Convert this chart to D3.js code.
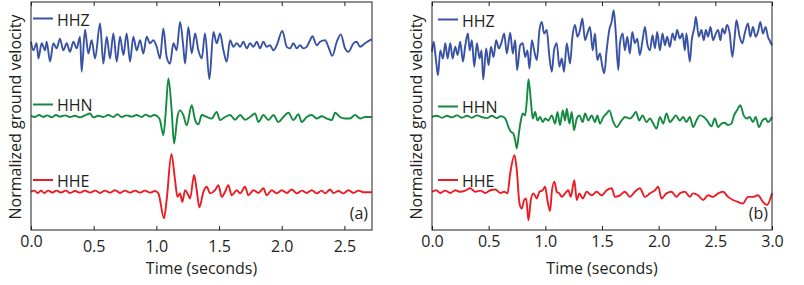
<!DOCTYPE html>
<html><head><meta charset="utf-8">
<script src="https://cdn.jsdelivr.net/npm/d3@7"></script>
<style>
body{margin:0;background:#fff}
svg{display:block}
text{font-family:"Open Sans",sans-serif;fill:#231f20}
</style>
</head><body>
<svg id="c" width="804" height="285"></svg>
<script>
// ---------------- data ----------------
const channels = ["HHZ", "HHN", "HHE"];
const channelColors = ["#3953a4", "#148a40", "#ed1c24"];
const panelLabels = ["(a)", "(b)"];
const xTitle = "Time (seconds)";
const yTitle = "Normalized ground velocity";
const xTicksA = [0, 0.5, 1, 1.5, 2, 2.5];
const xTicksB = [0, 0.5, 1, 1.5, 2, 2.5, 3];
const xMaxA = 2.72, xMaxB = 3.0;
const yMax = 5.85;
const offsetsA = [4.70, 2.92, 0.98];
const offsetsB = [4.70, 2.90, 0.98];

// [time (s), normalized velocity]
const hhzA = [[0,0.13],[0.019,-0.09],[0.045,0.09],[0.059,-0.30],[0.085,0.09],[0.112,-0.09],[0.125,0.13],[0.152,-0.38],[0.178,0.09],[0.205,-0.04],[0.231,0.21],[0.258,-0.09],[0.285,0.09],[0.311,-0.13],[0.338,0.13],[0.364,-0.04],[0.391,0.26],[0.404,-0.64],[0.431,0.44],[0.457,-0.17],[0.484,0.17],[0.511,-0.30],[0.551,0.60],[0.577,-0.43],[0.604,0.26],[0.630,-0.30],[0.657,0.34],[0.684,-0.38],[0.710,0.26],[0.737,-0.21],[0.763,0.34],[0.790,-0.38],[0.816,0.26],[0.843,-0.09],[0.870,0.17],[0.896,-0.17],[0.923,0.26],[0.949,0.09],[0.976,0.17],[1.003,0.00],[1.029,-0.30],[1.056,0.47],[1.082,-0.26],[1.109,-0.43],[1.136,0.09],[1.162,-0.09],[1.189,0.64],[1.215,0.00],[1.229,-0.43],[1.255,0.51],[1.282,-0.17],[1.309,0.34],[1.335,-0.09],[1.362,-0.30],[1.388,0.34],[1.423,-0.83],[1.455,0.38],[1.481,0.09],[1.508,0.34],[1.535,-0.09],[1.561,-0.38],[1.588,0.17],[1.614,0.00],[1.641,0.09],[1.668,0.00],[1.694,0.13],[1.721,-0.04],[1.747,0.09],[1.774,0.00],[1.801,0.13],[1.827,-0.04],[1.854,0.13],[1.880,0.00],[1.907,0.04],[1.934,-0.09],[1.960,0.04],[2.005,0.41],[2.040,0.00],[2.066,-0.04],[2.093,0.09],[2.120,-0.04],[2.146,0.04],[2.173,-0.04],[2.199,0.00],[2.226,0.17],[2.245,0.27],[2.279,0.04],[2.306,0.13],[2.346,0.17],[2.372,0.00],[2.404,-0.23],[2.439,0.13],[2.471,0.32],[2.505,-0.04],[2.532,-0.13],[2.572,0.09],[2.598,0.13],[2.625,0.00],[2.665,0.09],[2.705,0.17],[2.718,0.19]];

const hhnA = [[0,0.01],[0.032,-0.02],[0.064,0.03],[0.098,-0.02],[0.130,0.02],[0.165,-0.03],[0.199,0.03],[0.231,-0.01],[0.271,0.02],[0.311,-0.02],[0.351,0.01],[0.391,-0.03],[0.431,0.02],[0.471,0.07],[0.497,-0.03],[0.537,0.01],[0.577,-0.02],[0.617,0.03],[0.657,-0.02],[0.689,0.05],[0.723,-0.02],[0.763,0.02],[0.803,-0.01],[0.843,0.03],[0.883,-0.02],[0.915,0.04],[0.949,-0.01],[0.981,0.03],[1.008,0.00],[1.029,-0.10],[1.056,-0.49],[1.074,0.07],[1.096,0.97],[1.122,0.15],[1.141,-0.70],[1.168,-0.02],[1.189,0.15],[1.215,0.03],[1.242,-0.23],[1.282,0.28],[1.309,-0.10],[1.335,-0.21],[1.362,0.03],[1.402,-0.02],[1.441,-0.06],[1.481,0.11],[1.508,-0.10],[1.548,-0.02],[1.588,0.03],[1.628,-0.09],[1.668,0.03],[1.707,-0.09],[1.747,-0.02],[1.787,0.07],[1.814,-0.15],[1.854,0.03],[1.894,-0.10],[1.934,0.03],[1.973,-0.15],[2.013,-0.02],[2.053,0.09],[2.093,-0.10],[2.133,0.05],[2.160,-0.15],[2.199,-0.02],[2.239,0.03],[2.279,-0.06],[2.319,0.00],[2.359,-0.06],[2.399,-0.10],[2.426,0.09],[2.465,-0.02],[2.505,-0.06],[2.545,-0.06],[2.585,0.03],[2.625,-0.06],[2.665,-0.02],[2.718,-0.02]];

const hheA = [[0,0.00],[0.027,0.03],[0.053,-0.03],[0.080,0.03],[0.106,-0.03],[0.138,0.03],[0.170,-0.02],[0.205,0.03],[0.239,-0.02],[0.277,0.03],[0.311,-0.03],[0.351,0.02],[0.391,-0.02],[0.431,0.03],[0.471,-0.02],[0.511,0.03],[0.551,-0.03],[0.590,0.03],[0.630,-0.02],[0.670,0.04],[0.710,-0.03],[0.750,0.03],[0.790,-0.02],[0.830,0.03],[0.870,-0.02],[0.910,0.03],[0.949,-0.02],[0.989,0.02],[1.016,-0.04],[1.061,-0.68],[1.082,-0.21],[1.120,0.97],[1.149,0.30],[1.168,-0.13],[1.189,-0.04],[1.207,-0.26],[1.229,0.04],[1.255,-0.09],[1.269,-0.17],[1.301,0.43],[1.322,0.04],[1.343,-0.40],[1.375,0.00],[1.402,0.13],[1.428,-0.04],[1.468,0.04],[1.495,0.17],[1.521,-0.13],[1.548,0.00],[1.574,0.17],[1.601,-0.09],[1.641,0.04],[1.668,-0.04],[1.707,0.13],[1.734,-0.09],[1.774,0.04],[1.814,-0.03],[1.854,0.09],[1.880,-0.09],[1.920,0.04],[1.960,-0.04],[2.000,0.04],[2.040,-0.03],[2.080,0.06],[2.120,-0.04],[2.160,0.03],[2.199,-0.03],[2.239,0.04],[2.279,-0.04],[2.319,0.03],[2.346,-0.04],[2.386,0.06],[2.412,-0.03],[2.452,0.02],[2.492,-0.04],[2.532,0.04],[2.572,-0.03],[2.612,0.03],[2.652,-0.01],[2.718,-0.01]];

const hhzB = [[0,-0.13],[0.015,0.13],[0.035,-0.34],[0.053,-0.73],[0.073,-0.09],[0.097,-0.30],[0.117,0.09],[0.138,-0.30],[0.161,0.09],[0.182,-0.30],[0.205,0.00],[0.226,-0.21],[0.249,0.13],[0.273,-0.38],[0.294,0.04],[0.317,0.34],[0.332,-0.09],[0.352,0.17],[0.373,-0.51],[0.396,0.09],[0.420,-0.30],[0.437,-0.09],[0.452,-0.84],[0.478,-0.04],[0.499,-0.47],[0.520,0.00],[0.543,-0.26],[0.566,0.17],[0.590,-0.04],[0.611,0.09],[0.637,0.34],[0.660,-0.17],[0.690,0.36],[0.713,-0.17],[0.734,0.17],[0.751,-0.60],[0.778,0.04],[0.801,0.09],[0.822,-0.26],[0.842,-0.09],[0.860,-0.56],[0.881,0.17],[0.901,-0.09],[0.925,-0.34],[0.948,0.43],[0.969,0.64],[0.989,0.34],[1.013,0.43],[1.033,-0.17],[1.057,-0.64],[1.077,-0.09],[1.101,0.09],[1.124,-0.51],[1.145,-0.30],[1.165,-0.64],[1.189,0.09],[1.218,-0.43],[1.239,0.26],[1.262,0.56],[1.283,0.26],[1.306,0.43],[1.327,0.73],[1.350,0.17],[1.371,0.34],[1.394,0.51],[1.418,-0.09],[1.438,0.34],[1.459,-0.34],[1.482,-0.17],[1.503,-0.51],[1.520,-0.68],[1.541,-0.09],[1.564,0.43],[1.585,0.64],[1.603,0.94],[1.620,0.43],[1.644,-0.60],[1.658,0.09],[1.682,0.34],[1.702,-0.09],[1.723,0.26],[1.746,-0.17],[1.767,0.38],[1.790,0.09],[1.811,0.21],[1.834,-0.21],[1.858,0.17],[1.879,0.51],[1.899,0.09],[1.923,-0.09],[1.946,0.30],[1.967,-0.04],[1.987,0.38],[2.011,-0.09],[2.034,0.34],[2.055,0.04],[2.075,0.26],[2.099,0.00],[2.122,0.34],[2.143,0.17],[2.163,0.43],[2.187,0.21],[2.210,0.34],[2.231,-0.09],[2.245,0.34],[2.275,-0.38],[2.292,0.17],[2.316,0.51],[2.328,0.77],[2.354,0.26],[2.377,0.43],[2.398,0.17],[2.416,0.43],[2.436,0.26],[2.457,0.51],[2.480,0.17],[2.504,0.34],[2.524,0.43],[2.545,0.17],[2.562,0.47],[2.583,0.34],[2.603,0.56],[2.627,0.34],[2.650,-0.26],[2.671,0.26],[2.686,0.68],[2.715,0.26],[2.738,0.09],[2.759,0.34],[2.788,0.60],[2.809,0.26],[2.832,0.51],[2.856,0.26],[2.876,0.38],[2.897,0.64],[2.920,0.34],[2.944,0.51],[2.964,0.26],[2.985,0.13],[3.000,0.04]];

const hhnB = [[0,0.00],[0.044,0.03],[0.088,-0.02],[0.132,0.03],[0.176,-0.01],[0.220,0.04],[0.264,-0.02],[0.308,0.03],[0.352,-0.02],[0.396,0.04],[0.440,0.00],[0.484,-0.03],[0.528,0.03],[0.572,-0.03],[0.602,0.02],[0.631,0.00],[0.655,-0.09],[0.675,-0.26],[0.696,-0.38],[0.719,-0.43],[0.734,-0.60],[0.748,-0.81],[0.766,-0.43],[0.784,-0.09],[0.801,0.09],[0.822,0.04],[0.837,0.43],[0.851,0.97],[0.872,0.43],[0.889,-0.04],[0.910,0.13],[0.930,-0.09],[0.954,0.00],[0.977,-0.13],[0.998,-0.04],[1.027,-0.09],[1.057,0.04],[1.086,-0.17],[1.107,0.13],[1.130,-0.21],[1.154,0.17],[1.174,-0.09],[1.189,0.21],[1.212,-0.17],[1.233,0.13],[1.253,-0.34],[1.277,-0.04],[1.300,0.04],[1.330,-0.13],[1.350,0.09],[1.380,-0.09],[1.409,0.04],[1.438,-0.13],[1.459,0.04],[1.482,-0.17],[1.512,0.00],[1.541,0.09],[1.564,0.17],[1.600,-0.13],[1.629,-0.26],[1.673,-0.09],[1.702,0.00],[1.746,-0.04],[1.776,0.04],[1.799,0.13],[1.829,-0.09],[1.858,0.04],[1.893,-0.13],[1.923,-0.04],[1.952,-0.17],[1.981,-0.30],[2.011,0.00],[2.040,-0.17],[2.069,0.09],[2.099,-0.13],[2.128,-0.04],[2.151,0.04],[2.187,-0.09],[2.216,0.00],[2.245,-0.13],[2.275,0.00],[2.304,-0.26],[2.333,-0.09],[2.363,0.04],[2.398,0.00],[2.427,-0.09],[2.466,-0.24],[2.495,-0.04],[2.524,-0.26],[2.554,-0.17],[2.583,-0.15],[2.612,-0.21],[2.642,-0.17],[2.665,0.04],[2.691,0.17],[2.721,0.30],[2.750,0.04],[2.780,-0.04],[2.803,0.00],[2.832,-0.13],[2.856,0.00],[2.885,-0.26],[2.915,-0.09],[2.944,-0.04],[2.964,-0.13],[3.000,0.00]];

const hheB = [[0,0.00],[0.038,0.04],[0.073,-0.03],[0.117,0.03],[0.161,-0.03],[0.205,0.04],[0.249,0.00],[0.294,0.03],[0.338,0.09],[0.382,0.00],[0.426,0.03],[0.470,-0.03],[0.514,0.04],[0.558,0.06],[0.602,-0.03],[0.637,0.00],[0.666,-0.04],[0.690,0.47],[0.728,0.94],[0.748,0.56],[0.772,-0.30],[0.792,-0.43],[0.813,-0.21],[0.831,-0.17],[0.851,-0.73],[0.872,-0.21],[0.895,-0.04],[0.925,-0.17],[0.948,0.00],[0.977,0.04],[0.998,0.13],[1.018,-0.21],[1.042,-0.49],[1.057,0.00],[1.080,0.26],[1.101,0.00],[1.124,-0.04],[1.145,-0.13],[1.174,-0.04],[1.203,0.04],[1.224,-0.13],[1.256,0.30],[1.277,-0.21],[1.300,-0.04],[1.330,-0.17],[1.365,0.00],[1.409,-0.09],[1.453,0.00],[1.497,-0.09],[1.541,0.04],[1.585,0.09],[1.614,-0.13],[1.658,-0.09],[1.702,0.00],[1.746,-0.13],[1.790,0.00],[1.834,0.09],[1.879,-0.13],[1.923,-0.04],[1.967,0.04],[1.996,0.13],[2.025,-0.17],[2.069,-0.04],[2.113,0.00],[2.157,-0.13],[2.187,-0.04],[2.231,0.00],[2.275,-0.13],[2.304,-0.04],[2.348,-0.09],[2.392,-0.21],[2.436,-0.09],[2.480,-0.13],[2.524,-0.04],[2.568,0.00],[2.612,-0.13],[2.656,-0.21],[2.700,-0.26],[2.744,-0.30],[2.788,-0.13],[2.832,-0.13],[2.876,-0.09],[2.920,-0.26],[2.956,-0.34],[3.000,-0.04]];

// ---------------- layout ----------------
const panels = [
  {x0: 31, x1: 372, xMax: xMaxA, ticks: xTicksA, offsets: offsetsA, series: [hhzA, hhnA, hheA],
   label: panelLabels[0], yTitleX: 20.5, legLineY: [18.5, 104.5, 180], legTextY: [25.5, 110.5, 186.5], legX: 33, tickShift: 5},
  {x0: 432, x1: 772, xMax: xMaxB, ticks: xTicksB, offsets: offsetsB, series: [hhzB, hhnB, hheB],
   label: panelLabels[1], yTitleX: 421.5, legLineY: [19.5, 106.5, 180], legTextY: [26.5, 113, 186.5], legX: 438, tickShift: 0}
];
const plotTop = 2, plotBottom = 230;
const ink = "#231f20";

const svg = d3.select("#c");
const y = d3.scaleLinear().domain([0, yMax]).range([plotBottom, plotTop]);

panels.forEach((p) => {
  const x = d3.scaleLinear().domain([0, p.xMax]).range([p.x0, p.x1]);
  const g = svg.append("g");

  // traces
  const line = d3.line().curve(d3.curveMonotoneX);
  p.series.forEach((s, i) => {
    g.append("path")
      .attr("d", line(s.map(d => [x(d[0]), y(p.offsets[i] + d[1])])))
      .attr("fill", "none")
      .attr("stroke", channelColors[i])
      .attr("stroke-width", 1.9)
      .attr("stroke-linejoin", "round");
  });

  // axes (ticks inward, top & bottom)
  const fmt = d3.format(".1f");
  const axB = g.append("g").attr("transform", `translate(0,${plotBottom})`)
    .call(d3.axisBottom(x).tickValues(p.ticks).tickSizeInner(-4).tickSizeOuter(0).tickPadding(5.6).tickFormat(fmt));
  const axT = g.append("g").attr("transform", `translate(0,${plotTop})`)
    .call(d3.axisTop(x).tickValues(p.ticks).tickSizeInner(-4).tickSizeOuter(0).tickFormat(""));
  [axB, axT].forEach(a => {
    a.select(".domain").remove();
    a.selectAll("line").attr("stroke", ink);
  });
  axB.selectAll("text")
    .attr("font-size", 16).attr("font-family", "'Open Sans', sans-serif").attr("fill", ink)
    .attr("transform", (d, i) => (i > 0 ? `translate(0,${p.tickShift})` : null));

  // frame
  g.append("rect").attr("x", p.x0).attr("y", plotTop)
    .attr("width", p.x1 - p.x0).attr("height", plotBottom - plotTop)
    .attr("fill", "none").attr("stroke", ink).attr("stroke-width", 1);

  // legend
  channels.forEach((c, i) => {
    g.append("line").attr("x1", p.legX).attr("x2", p.legX + 20)
      .attr("y1", p.legLineY[i]).attr("y2", p.legLineY[i])
      .attr("stroke", channelColors[i]).attr("stroke-width", 2);
    g.append("text").attr("x", p.legX + 24).attr("y", p.legTextY[i])
      .attr("font-size", 16).text(c);
  });

  // panel label
  g.append("text").attr("x", p.x1 - 4).attr("y", 219).attr("text-anchor", "end")
    .attr("font-size", 16).text(p.label);

  // axis titles
  g.append("text").attr("x", (p.x0 + p.x1) / 2).attr("y", 273.5).attr("text-anchor", "middle")
    .attr("font-size", 16).text(xTitle);
  g.append("text").attr("transform", `translate(${p.yTitleX},117) rotate(-90)`)
    .attr("text-anchor", "middle").attr("font-size", 16).text(yTitle);
});
</script>
</body></html>
